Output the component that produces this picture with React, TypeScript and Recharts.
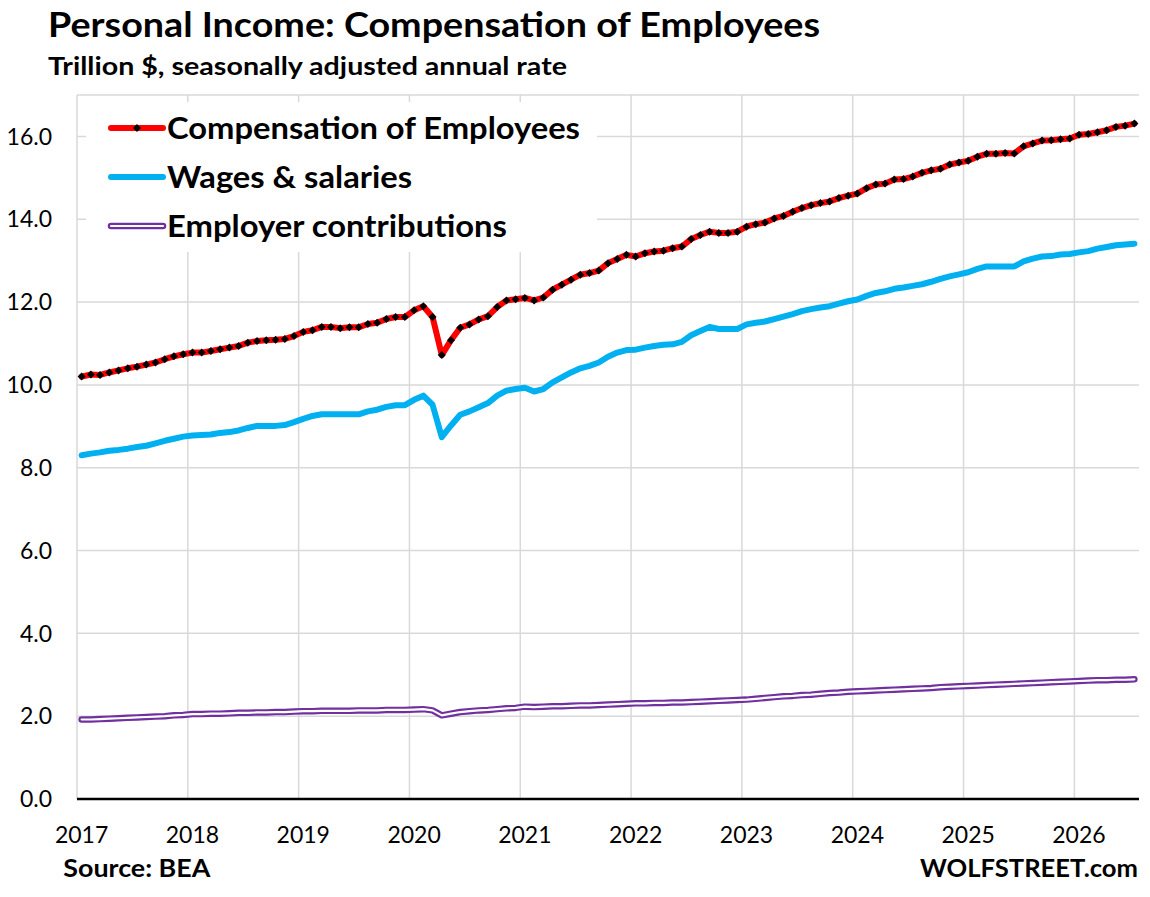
import React from "react";
import { CartesianGrid, Legend, Line, LineChart, ReferenceLine, XAxis, YAxis } from "recharts";

// monthly, Jan 2017 .. Jul 2026, trillion $ SAAR
const years = ["2017", "2018", "2019", "2020", "2021", "2022", "2023", "2024", "2025", "2026"];

const comp = [
  10.2, 10.25, 10.24, 10.3, 10.35, 10.4, 10.44, 10.49, 10.54, 10.62, 10.69, 10.74,
  10.78, 10.78, 10.82, 10.86, 10.9, 10.94, 11.02, 11.06, 11.08, 11.09, 11.11, 11.18,
  11.28, 11.32, 11.4, 11.4, 11.37, 11.39, 11.39, 11.47, 11.5, 11.59, 11.64, 11.64,
  11.8, 11.9, 11.64, 10.72, 11.08, 11.38, 11.46, 11.58, 11.66, 11.88, 12.04, 12.07,
  12.1, 12.04, 12.11, 12.3, 12.42, 12.54, 12.66, 12.7, 12.76, 12.94, 13.04, 13.14,
  13.1, 13.18, 13.22, 13.24, 13.3, 13.34, 13.52, 13.62, 13.7, 13.67, 13.67, 13.7,
  13.82, 13.88, 13.92, 14.02, 14.08, 14.18, 14.27, 14.34, 14.39, 14.43, 14.51, 14.57,
  14.62, 14.75, 14.84, 14.86, 14.96, 14.97, 15.03, 15.12, 15.18, 15.22, 15.32, 15.37,
  15.41, 15.51, 15.58, 15.58, 15.6, 15.59, 15.76, 15.83, 15.9, 15.91, 15.93, 15.95,
  16.04, 16.06, 16.1, 16.15, 16.23, 16.26, 16.31,
];

const wages = [
  8.3, 8.34, 8.37, 8.41, 8.43, 8.46, 8.5, 8.53, 8.59, 8.65, 8.7, 8.75,
  8.78, 8.79, 8.8, 8.84, 8.86, 8.9, 8.96, 9.01, 9.01, 9.01, 9.03, 9.1,
  9.18, 9.25, 9.29, 9.29, 9.29, 9.29, 9.29, 9.36, 9.4, 9.47, 9.51, 9.51,
  9.64, 9.74, 9.52, 8.74, 9.02, 9.28, 9.36, 9.46, 9.56, 9.74, 9.86, 9.9,
  9.93, 9.84, 9.9, 10.06, 10.18, 10.3, 10.4, 10.46, 10.54, 10.68, 10.78, 10.84,
  10.85, 10.9, 10.94, 10.97, 10.98, 11.04, 11.2, 11.3, 11.4, 11.35, 11.35, 11.35,
  11.46, 11.5, 11.53, 11.59, 11.65, 11.71, 11.78, 11.83, 11.87, 11.9, 11.96, 12.02,
  12.06, 12.15, 12.22, 12.26, 12.32, 12.35, 12.39, 12.43, 12.49, 12.56, 12.62, 12.67,
  12.72, 12.8, 12.86, 12.86, 12.86, 12.86, 12.98, 13.05, 13.1, 13.11, 13.15, 13.16,
  13.2, 13.23, 13.29, 13.33, 13.37, 13.39, 13.41,
];

const contrib = [
  1.92, 1.92, 1.93, 1.94, 1.95, 1.96, 1.97, 1.98, 1.99, 2.0, 2.02, 2.03,
  2.05, 2.05, 2.06, 2.06, 2.07, 2.08, 2.08, 2.09, 2.09, 2.1, 2.1, 2.11,
  2.12, 2.12, 2.13, 2.13, 2.13, 2.13, 2.14, 2.14, 2.14, 2.15, 2.15, 2.15,
  2.16, 2.17, 2.14, 2.02, 2.06, 2.1, 2.12, 2.14, 2.15, 2.17, 2.19, 2.2,
  2.23, 2.22, 2.23, 2.24, 2.24, 2.25, 2.26, 2.26, 2.27, 2.28, 2.29, 2.3,
  2.31, 2.31, 2.32, 2.32, 2.33, 2.33, 2.34, 2.35, 2.36, 2.37, 2.38, 2.39,
  2.4, 2.42, 2.44, 2.46, 2.48, 2.49, 2.51, 2.52, 2.54, 2.56, 2.57, 2.59,
  2.6, 2.61, 2.62, 2.63, 2.64, 2.65, 2.66, 2.67, 2.68, 2.7, 2.71, 2.72,
  2.73, 2.74, 2.75, 2.76, 2.77, 2.78, 2.79, 2.8, 2.81, 2.82, 2.83, 2.84,
  2.85, 2.86, 2.87, 2.87, 2.88, 2.88, 2.89,
];

const yTicks = [0, 2, 4, 6, 8, 10, 12, 14, 16];

const seriesOrder = ["comp", "wages", "contrib"];
const labels: Record<string, string> = {
  comp: "Compensation of Employees",
  wages: "Wages & salaries",
  contrib: "Employer contributions",
};

const RED = "#FF0000";
const BLUE = "#00B0F0";
const PURPLE = "#7030A0";
const GRID = "#D9D9D9";
const FONT = "Lato, 'Open Sans', sans-serif";

const rows = comp.map((v, i) => ({ i, comp: v, wages: wages[i], contrib: contrib[i] }));
const yearTicks = years.map((_, k) => k * 12);
const yearEdges = years.map((_, k) => k * 12 - 0.5);

function Diamond(props: any) {
  const { cx, cy, index } = props;
  if (cx == null || cy == null) return <g key={index} />;
  const r = 4;
  return (
    <path
      key={index}
      d={`M${cx},${cy - r}L${cx + r},${cy}L${cx},${cy + r}L${cx - r},${cy}Z`}
      fill="#000"
    />
  );
}

const textWidths: Record<string, number> = { comp: 413, wages: 245, contrib: 340 };

function LegendBox({ payload }: any) {
  const items = (payload || [])
    .filter((p: any) => p.type !== "none")
    .sort((a: any, b: any) => seriesOrder.indexOf(String(a.dataKey)) - seriesOrder.indexOf(String(b.dataKey)));
  return (
    <svg width={511} height={150} style={{ display: "block", background: "#fff" }}>
      {items.map((p: any, k: number) => {
        const key = String(p.dataKey);
        const y = 26 + k * 49;
        return (
          <g key={key}>
            {key === "contrib" ? (
              <>
                <line x1={25} x2={77} y1={y} y2={y} stroke={PURPLE} strokeWidth={6.5} strokeLinecap="round" />
                <line x1={25} x2={77} y1={y} y2={y} stroke="#fff" strokeWidth={2.2} strokeLinecap="round" />
              </>
            ) : (
              <line x1={25} x2={77} y1={y} y2={y} stroke={p.color} strokeWidth={6} strokeLinecap="round" />
            )}
            {key === "comp" && <Diamond cx={51} cy={y} />}
            <text
              x={81}
              y={y + 10.5}
              fontFamily={FONT}
              fontWeight={700}
              fontSize={31}
              fill="#000"
              textLength={textWidths[key]}
              lengthAdjust="spacingAndGlyphs"
            >
              {labels[key]}
            </text>
          </g>
        );
      })}
    </svg>
  );
}

export default function App() {
  return (
    <div style={{ position: "absolute", left: 0, top: 0, width: 1150, height: 897, background: "#fff" }}>
      <LineChart width={1150} height={897} data={rows} margin={{ top: 95, right: 11, bottom: 58, left: 0 }}>
        <CartesianGrid vertical={false} stroke={GRID} strokeWidth={1.5} />
        {yearEdges.map((x) => (
          <ReferenceLine key={x} x={x} stroke={GRID} strokeWidth={1.5} />
        ))}
        <ReferenceLine y={0} stroke="#000" strokeWidth={2.5} />
        <XAxis
          type="number"
          dataKey="i"
          domain={[-0.5, comp.length - 0.5]}
          ticks={yearTicks}
          tickFormatter={(v: number) => years[Math.round(v / 12)]}
          axisLine={false}
          tickLine={false}
          tickMargin={22}
          height={40}
          tick={{ fill: "#000", fontSize: 23, fontFamily: FONT }}
        />
        <YAxis
          domain={[0, 17]}
          ticks={yTicks}
          tickFormatter={(v: number) => v.toFixed(1)}
          axisLine={false}
          tickLine={false}
          tickMargin={19}
          width={77}
          tick={{ fill: "#000", fontSize: 23, fontFamily: FONT }}
        />
        <Legend
          layout="vertical"
          align="center"
          verticalAlign="middle"
          content={<LegendBox />}
          wrapperStyle={{ left: 86, top: 102, width: 511, height: 150 }}
        />
        <Line
          dataKey="comp"
          stroke={RED}
          strokeWidth={6}
          strokeLinejoin="round"
          strokeLinecap="round"
          dot={<Diamond />}
          activeDot={false}
          isAnimationActive={false}
        />
        <Line
          dataKey="wages"
          stroke={BLUE}
          strokeWidth={6}
          strokeLinejoin="round"
          strokeLinecap="round"
          dot={false}
          activeDot={false}
          isAnimationActive={false}
        />
        <Line
          dataKey="contrib"
          stroke={PURPLE}
          strokeWidth={6.5}
          strokeLinejoin="round"
          strokeLinecap="round"
          dot={false}
          activeDot={false}
          isAnimationActive={false}
        />
        <Line
          dataKey="contrib"
          stroke="#fff"
          strokeWidth={2.2}
          strokeLinejoin="round"
          strokeLinecap="round"
          dot={false}
          activeDot={false}
          legendType="none"
          isAnimationActive={false}
        />
      </LineChart>
      <svg
        width={1150}
        height={897}
        style={{ position: "absolute", left: 0, top: 0, pointerEvents: "none" }}
        fontFamily={FONT}
        fontWeight={700}
        fill="#000"
      >
        <text x={48} y={37} fontSize={34} textLength={772} lengthAdjust="spacingAndGlyphs">
          Personal Income: Compensation of Employees
        </text>
        <text x={48} y={75} fontSize={25} textLength={519} lengthAdjust="spacingAndGlyphs">
          Trillion $, seasonally adjusted annual rate
        </text>
        <text x={63.3} y={876.7} fontSize={24} textLength={147} lengthAdjust="spacingAndGlyphs">
          Source: BEA
        </text>
        <text x={920} y={876.7} fontSize={24} textLength={218} lengthAdjust="spacingAndGlyphs">
          WOLFSTREET.com
        </text>
      </svg>
    </div>
  );
}
